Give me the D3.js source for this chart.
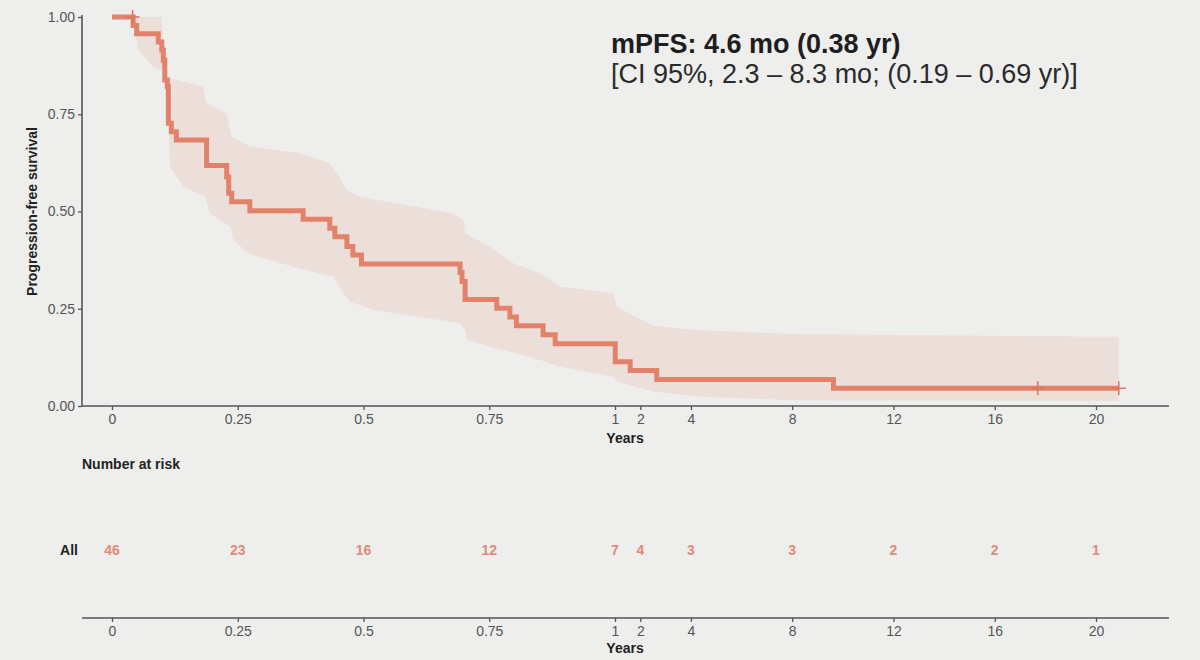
<!DOCTYPE html>
<html>
<head>
<meta charset="utf-8">
<script src="https://cdn.jsdelivr.net/npm/d3@7"></script>
<style>
  html, body { margin: 0; padding: 0; background: #eeefed; }
  svg { display: block; font-family: "Liberation Sans", Arial, sans-serif; }
  .tick text { fill: #555; font-size: 14px; }
  .tick line { stroke: #555; stroke-width: 1.3; }
  .axisLine { stroke: #555; stroke-width: 1.6; }
  .axisTitle { fill: #222; font-size: 14px; font-weight: bold; }
</style>
</head>
<body>
<div id="chart"></div>
<script>
const width = 1200;
const height = 660;

// Kaplan-Meier steps: [years, survival after the event]
const kmSteps = [
  [0, 1.0], [0.042, 0.978], [0.049, 0.957], [0.092, 0.936], [0.099, 0.915],
  [0.102, 0.889], [0.105, 0.838], [0.110, 0.821], [0.112, 0.727], [0.118, 0.705],
  [0.128, 0.684], [0.188, 0.618], [0.228, 0.589], [0.232, 0.547], [0.238, 0.525],
  [0.274, 0.502], [0.380, 0.480], [0.433, 0.457], [0.443, 0.435], [0.467, 0.410],
  [0.479, 0.388], [0.496, 0.365], [0.692, 0.343], [0.696, 0.320], [0.702, 0.274],
  [0.765, 0.251], [0.791, 0.229], [0.804, 0.206], [0.857, 0.183], [0.881, 0.160],
  [1.01, 0.114], [1.6, 0.091], [2.65, 0.068], [9.63, 0.0455]
];
const lastTime = 20.9;

// censored observations
const censored = [[0.041, 1.0], [17.7, 0.0455], [20.9, 0.0455]];

// 95% CI band edges
const ciUpper = [
  [0, 1], [0.099, 1], [0.105, 0.847], [0.181, 0.821], [0.188, 0.778], [0.228, 0.752],
  [0.238, 0.692], [0.274, 0.667], [0.374, 0.65], [0.433, 0.624], [0.452, 0.589],
  [0.467, 0.555], [0.493, 0.538], [0.679, 0.495], [0.699, 0.478], [0.702, 0.444],
  [0.751, 0.41], [0.798, 0.367], [0.851, 0.341], [0.89, 0.307], [0.997, 0.29],
  [1.07, 0.255], [2.5, 0.206], [4.36, 0.195], [8, 0.185], [20.9, 0.178]
];
const ciLower = [
  [0, 1], [0.041, 1], [0.042, 0.992], [0.052, 0.915], [0.082, 0.872], [0.102, 0.86],
  [0.112, 0.787], [0.115, 0.615], [0.142, 0.564], [0.185, 0.538], [0.195, 0.495],
  [0.235, 0.461], [0.241, 0.427], [0.274, 0.39], [0.36, 0.358], [0.44, 0.332],
  [0.455, 0.30], [0.473, 0.268], [0.52, 0.247], [0.692, 0.213], [0.702, 0.195],
  [0.705, 0.17], [0.751, 0.152], [0.805, 0.135], [0.851, 0.118], [0.89, 0.101],
  [0.997, 0.075], [1.07, 0.063], [2.5, 0.037], [4.36, 0.024], [8, 0.015], [20.9, 0.013]
];

const xTicks = [0, 0.25, 0.5, 0.75, 1, 2, 4, 8, 12, 16, 20];
const yTicks = [0, 0.25, 0.5, 0.75, 1];
const riskTimes = [0, 0.25, 0.5, 0.75, 1, 2, 4, 8, 12, 16, 20];
const riskCounts = [46, 23, 16, 12, 7, 4, 3, 3, 2, 2, 1];

const lineColor = "#e2826b";

const svg = d3.select("#chart").append("svg")
    .attr("width", width)
    .attr("height", height)
    .attr("viewBox", [0, 0, width, height]);

// first year stretched, later years compressed
const x = d3.scaleLinear()
    .domain([0, 1, 20])
    .range([112, 615, 1096]);

const y = d3.scaleLinear()
    .domain([0, 1])
    .range([406, 17]);

const plotLeft = 82, plotRight = 1169;

// CI band
const band = ciUpper.concat(ciLower.slice().reverse());
svg.append("path")
    .attr("d", d3.line().x(d => x(d[0])).y(d => y(d[1]))(band) + "Z")
    .attr("fill", lineColor)
    .attr("fill-opacity", 0.15);

// KM curve
const kmPoints = kmSteps.concat([[lastTime, kmSteps[kmSteps.length - 1][1]]]);
svg.append("path")
    .attr("d", d3.line().curve(d3.curveStepAfter).x(d => x(d[0])).y(d => y(d[1]))(kmPoints))
    .attr("fill", "none")
    .attr("stroke", lineColor)
    .attr("stroke-width", 5);

svg.selectAll("path.censor")
    .data(censored)
    .enter()
    .append("path")
    .attr("class", "censor")
    .attr("transform", d => `translate(${x(d[0])},${y(d[1])})`)
    .attr("d", "M0,-7V7M-7,0H7")
    .attr("stroke", "#d9775f")
    .attr("stroke-width", 1.5);

// y axis
const yAxis = d3.axisLeft(y)
    .tickValues(yTicks)
    .tickFormat(d3.format(".2f"))
    .tickSize(4)
    .tickSizeOuter(0);

svg.append("g")
    .attr("transform", `translate(${plotLeft},0)`)
    .call(yAxis)
    .call(g => g.select(".domain").remove())
    .call(g => g.selectAll(".tick text").attr("x", -7));

svg.append("line")
    .attr("class", "axisLine")
    .attr("x1", plotLeft).attr("x2", plotLeft)
    .attr("y1", 15).attr("y2", y(0));

svg.append("text")
    .attr("class", "axisTitle")
    .attr("transform", `translate(37,${(y(0) + y(1)) / 2}) rotate(-90)`)
    .attr("text-anchor", "middle")
    .text("Progression-free survival");

// x axes (survival plot and risk table share the same scale)
function drawXAxis(yPos, titleY) {
  const xAxis = d3.axisBottom(x)
      .tickValues(xTicks)
      .tickFormat(d => d3.format("")(d))
      .tickSize(4)
      .tickSizeOuter(0);

  svg.append("g")
      .attr("transform", `translate(0,${yPos})`)
      .call(xAxis)
      .call(g => g.select(".domain").remove())
      .call(g => g.selectAll(".tick text").attr("y", 8));

  svg.append("line")
      .attr("class", "axisLine")
      .attr("x1", plotLeft).attr("x2", plotRight)
      .attr("y1", yPos).attr("y2", yPos);

  svg.append("text")
      .attr("class", "axisTitle")
      .attr("x", x(1) + 10)
      .attr("y", titleY)
      .attr("text-anchor", "middle")
      .text("Years");
}

drawXAxis(y(0), 443);

// annotation
svg.append("text")
    .attr("x", 611)
    .attr("y", 53)
    .attr("fill", "#1e1e1e")
    .style("font-size", "27px")
    .style("font-weight", "bold")
    .text("mPFS: 4.6 mo (0.38 yr)");

svg.append("text")
    .attr("x", 611)
    .attr("y", 83)
    .attr("fill", "#2a2a2a")
    .style("font-size", "27px")
    .text("[CI 95%, 2.3 \u2013 8.3 mo; (0.19 \u2013 0.69 yr)]");

// risk table
svg.append("text")
    .attr("x", 82)
    .attr("y", 469)
    .attr("fill", "#222")
    .style("font-size", "14px")
    .style("font-weight", "bold")
    .text("Number at risk");

svg.append("text")
    .attr("x", 78)
    .attr("y", 555)
    .attr("text-anchor", "end")
    .attr("fill", "#222")
    .style("font-size", "14px")
    .style("font-weight", "bold")
    .text("All");

svg.selectAll("text.risk")
    .data(riskTimes)
    .enter()
    .append("text")
    .attr("class", "risk")
    .attr("x", d => x(d))
    .attr("y", 555)
    .attr("text-anchor", "middle")
    .attr("fill", "#de8c7a")
    .style("font-size", "14px")
    .style("font-weight", "bold")
    .text((d, i) => riskCounts[i]);

drawXAxis(618, 653);
</script>
</body>
</html>
